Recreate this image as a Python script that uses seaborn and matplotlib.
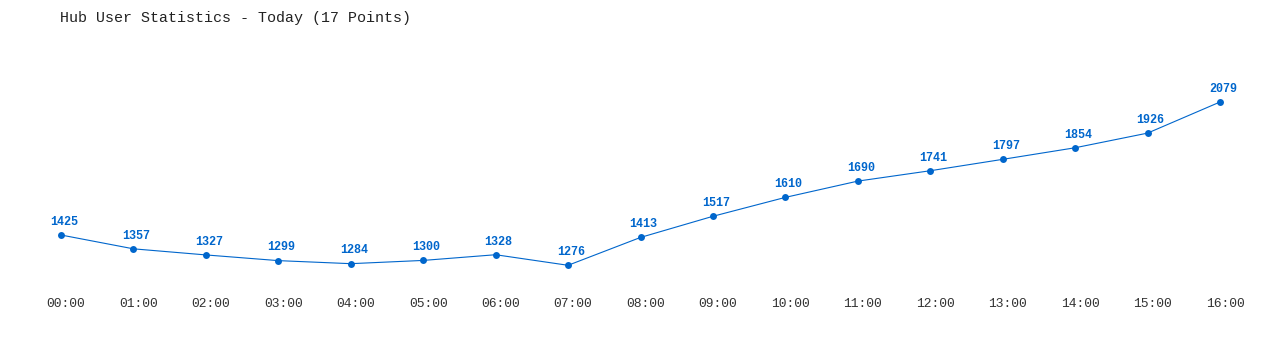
import matplotlib
matplotlib.use("Agg")
import matplotlib.pyplot as plt
import matplotlib.transforms as mtransforms
import seaborn as sns
import pandas as pd

times = ["00:00", "01:00", "02:00", "03:00", "04:00", "05:00", "06:00", "07:00", "08:00",
         "09:00", "10:00", "11:00", "12:00", "13:00", "14:00", "15:00", "16:00"]
users = [1425, 1357, 1327, 1299, 1284, 1300, 1328, 1276, 1413, 1517, 1610, 1690, 1741,
         1797, 1854, 1926, 2079]
title = "Hub User Statistics - Today (17 Points)"

sns.set_theme(style="white")
plt.rcParams['font.family'] = ['Liberation Mono', 'DejaVu Sans Mono']

blue = "#0066cc"
df = pd.DataFrame({"idx": list(range(len(times))), "users": users})

fig = plt.figure(figsize=(12.8, 3.5), dpi=100)
ax = fig.add_axes([0, 60/350, 1, 250/350])

sns.lineplot(data=df, x="idx", y="users", ax=ax, color=blue, linewidth=0.8,
             marker="o", markersize=5, markeredgewidth=0, markerfacecolor=blue)

for i, v in enumerate(users):
    ax.annotate(str(v), (i, v), xytext=(2.2, 9.5), textcoords="offset points",
                ha="center", va="center", fontsize=8.5, fontweight="bold", color=blue)

step = (1220 - 61) / 16
ax.set_xlim(-61 / step, (1280 - 61) / step)
slope = (235 - 102) / (2079 - 1425)
ax.set_ylim(1425 - 55 / slope, 1425 + 195 / slope)

ax.set_xticks(range(len(times)))
ax.set_xticklabels(times, fontsize=9.4, color="#333333")
ax.tick_params(axis="x", length=0, pad=6)
ax.set_yticks([])
ax.set_xlabel("")
ax.set_ylabel("")
for s in ax.spines.values():
    s.set_visible(False)

shift = mtransforms.ScaledTranslation(5/100, 0, fig.dpi_scale_trans)
for lbl in ax.get_xticklabels():
    lbl.set_transform(lbl.get_transform() + shift)

fig.text(60/1280, 1 - 18/350, title, ha="left", va="center", fontsize=10.8, color="#222222")

fig.savefig("out.png", dpi=100, facecolor="white")
